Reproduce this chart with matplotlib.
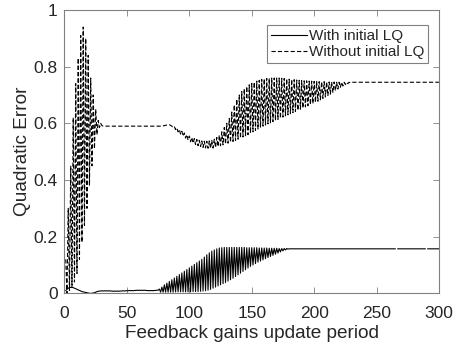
import numpy as np
import matplotlib
matplotlib.use("Agg")
import matplotlib.pyplot as plt

plt.rcParams['font.family'] = ['Liberation Sans', 'DejaVu Sans']
plt.rcParams['lines.scale_dashes'] = False

nan = np.nan

# Feedback gains update period (samples 1..300)
period = np.arange(1, 301)

# Quadratic error, with initial LQ gains
with_start = [
    0.010, 0.014, 0.018, 0.020, 0.021, 0.021, 0.020, 0.018, 0.016, 0.014,
    0.012, 0.010, 0.008, 0.006, 0.005, 0.004, 0.003, 0.002, 0.001, 0.000,
    0.000, 0.000, 0.001, 0.002, 0.004, 0.006, 0.007, 0.008, 0.008, 0.009,
    0.008, 0.009, 0.008, 0.009, 0.008, 0.009, 0.008, 0.008, 0.007, 0.008,
    0.007, 0.008, 0.007, 0.008, 0.008, 0.008, 0.009, 0.008, 0.009, 0.009,
    0.009, 0.010, 0.009, 0.010, 0.009, 0.010, 0.010, 0.011, 0.010, 0.011,
    0.010, 0.011, 0.010, 0.011, 0.010, 0.010, 0.009, 0.010, 0.009, 0.010,
    0.009, 0.010, 0.010, 0.011, 0.011,
]
with_osc = [
    0.015, 0.004, 0.022, 0.004, 0.030, 0.004, 0.036, 0.004, 0.042, 0.004,
    0.048, 0.004, 0.054, 0.005, 0.060, 0.005, 0.066, 0.005, 0.072, 0.005,
    0.078, 0.005, 0.084, 0.005, 0.090, 0.005, 0.096, 0.006, 0.102, 0.006,
    0.108, 0.006, 0.114, 0.007, 0.120, 0.008, 0.128, 0.009, 0.136, 0.011,
    0.143, 0.014, 0.149, 0.018, 0.153, 0.022, 0.157, 0.026, 0.160, 0.030,
    0.161, 0.034, 0.162, 0.038, 0.162, 0.043, 0.162, 0.048, 0.162, 0.053,
    0.162, 0.059, 0.162, 0.065, 0.162, 0.071, 0.162, 0.077, 0.162, 0.083,
    0.161, 0.089, 0.161, 0.095, 0.161, 0.100, 0.161, 0.105, 0.161, 0.110,
    0.160, 0.114, 0.160, 0.118, 0.160, 0.122, 0.160, 0.126, 0.159, 0.130,
    0.159, 0.134, 0.159, 0.138, 0.159, 0.142, 0.158, 0.146, 0.158, 0.150,
    0.158, 0.153, 0.158, 0.156,
]
with_tail = [0.157] * 86 + [nan] + [0.157] * 23 + [nan] + [0.157] * 10
with_lq = np.array(with_start + with_osc + with_tail)

# Quadratic error, without initial LQ gains
without_start = [
    0.12, 0.00, 0.30, 0.01, 0.45, 0.02, 0.62, 0.04, 0.74, 0.07,
    0.83, 0.12, 0.91, 0.18, 0.94, 0.24, 0.90, 0.30, 0.84, 0.38,
    0.76, 0.45, 0.70, 0.51, 0.65, 0.56, 0.61, 0.585, 0.60, 0.592,
]
without_flat = [0.590] * 48 + [0.591, 0.592, 0.593, 0.594, 0.595, 0.595, 0.593]
without_osc = [
    0.590, 0.585, 0.588, 0.578, 0.584, 0.570, 0.578, 0.562, 0.572, 0.555,
    0.566, 0.548, 0.560, 0.541, 0.555, 0.535, 0.550, 0.530, 0.546, 0.525,
    0.543, 0.521, 0.540, 0.518, 0.538, 0.515, 0.537, 0.513, 0.537, 0.512,
    0.538, 0.512, 0.540, 0.513, 0.544, 0.515, 0.550, 0.518, 0.558, 0.521,
    0.570, 0.524, 0.585, 0.527, 0.600, 0.530, 0.617, 0.533, 0.640, 0.536,
    0.665, 0.540, 0.685, 0.544, 0.700, 0.548, 0.712, 0.552, 0.722, 0.556,
    0.730, 0.560, 0.736, 0.565, 0.741, 0.570, 0.745, 0.575, 0.749, 0.580,
    0.752, 0.585, 0.755, 0.590, 0.757, 0.594, 0.758, 0.598, 0.759, 0.602,
    0.760, 0.606, 0.760, 0.610, 0.760, 0.614, 0.760, 0.618, 0.759, 0.622,
    0.758, 0.626, 0.757, 0.630, 0.756, 0.634, 0.755, 0.638, 0.754, 0.642,
    0.753, 0.646, 0.752, 0.650, 0.751, 0.654, 0.750, 0.658, 0.750, 0.662,
    0.749, 0.666, 0.749, 0.670, 0.748, 0.674, 0.748, 0.678, 0.747, 0.683,
    0.747, 0.688, 0.747, 0.693, 0.746, 0.698, 0.746, 0.703, 0.746, 0.709,
    0.746, 0.715, 0.745, 0.721, 0.745, 0.727, 0.745, 0.732, 0.745, 0.737,
    0.745, 0.740, 0.745, 0.743,
]
without_tail = [0.745] * 71
without_lq = np.array(without_start + without_flat + without_osc + without_tail)

x_ticks = [0, 50, 100, 150, 200, 250, 300]
y_ticks = [0, 0.2, 0.4, 0.6, 0.8, 1]
y_tick_labels = ['0', '0.2', '0.4', '0.6', '0.8', '1']

fig = plt.figure(figsize=(4.58, 3.49), dpi=100)
ax = fig.add_axes([0.1408, 0.1596, 0.8177, 0.8117])

ax.plot(period, with_lq, color='black', lw=0.8, label='With initial LQ')
ax.plot(period, without_lq, color='black', lw=0.8, linestyle=(0, (3.0, 1.6)),
        label='Without initial LQ')

ax.set_xlim(0, 300)
ax.set_ylim(0, 1)
ax.set_xticks(x_ticks)
ax.set_yticks(y_ticks)
ax.set_yticklabels(y_tick_labels)

axis_col = '#262626'
for s in ax.spines.values():
    s.set_color('#808080')
    s.set_linewidth(0.8)
ax.tick_params(direction='in', length=4, width=0.6, color='#808080',
               labelcolor=axis_col, labelsize=12.5, top=True, right=True)
ax.tick_params(axis='x', pad=9)
ax.tick_params(axis='y', pad=5)

ax.set_xlabel('Feedback gains update period', fontsize=13.7, color=axis_col, labelpad=3)
ax.set_ylabel('Quadratic Error', fontsize=13.7, color=axis_col, labelpad=2)

leg = ax.legend(loc='upper right', bbox_to_anchor=(0.9706, 0.947), borderaxespad=0,
                fontsize=11, handlelength=2.4, handletextpad=0.1, borderpad=0.25,
                labelspacing=0.15, fancybox=False, framealpha=1)
leg.get_frame().set_edgecolor('#808080')
leg.get_frame().set_linewidth(0.8)
for t in leg.get_texts():
    t.set_color(axis_col)

fig.savefig('out.png', dpi=100)
